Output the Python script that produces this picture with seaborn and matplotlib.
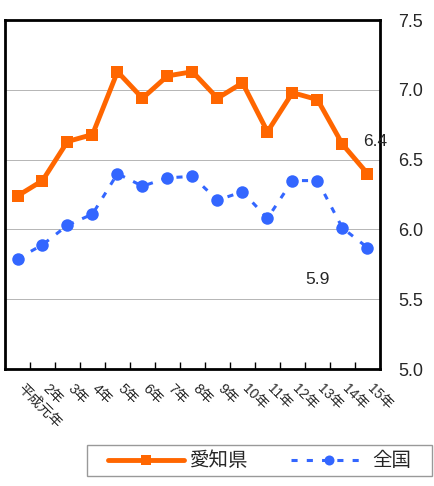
import pandas as pd
import seaborn as sns
import numpy as np
import matplotlib
matplotlib.use('Agg')
import matplotlib.pyplot as plt
import matplotlib.transforms as mtrans
from matplotlib.patches import Rectangle

years = ['平成元年', '2年', '3年', '4年', '5年', '6年', '7年', '8年',
         '9年', '10年', '11年', '12年', '13年', '14年', '15年']
aichi = [6.24, 6.35, 6.63, 6.68, 7.13, 6.94, 7.10, 7.13, 6.94, 7.05, 6.70, 6.98, 6.93, 6.61, 6.40]
zenkoku = [5.79, 5.89, 6.03, 6.11, 6.40, 6.31, 6.37, 6.38, 6.21, 6.27, 6.08, 6.35, 6.35, 6.01, 5.87]

orange = '#FF6600'
blue = '#3366FF'

sns.set_style('white')
plt.rcParams['font.family'] = ['Liberation Sans', 'Noto Sans CJK JP']

fig = plt.figure(figsize=(4.35, 4.86), dpi=100)
ax = fig.add_axes([0.0115, 0.2407, 0.862, 0.718])

idx = np.arange(len(years))
sns.lineplot(x=idx, y=aichi, ax=ax, color=orange, lw=3.5, marker='s', markersize=9,
             markeredgewidth=0, label='愛知県')
sns.lineplot(x=idx, y=zenkoku, ax=ax, color=blue, lw=2.2, marker='o', markersize=9,
             markeredgewidth=0, dashes=(2, 3), label='全国')

ax.set_xlim(-0.5, len(years) - 0.5)
ax.set_ylim(5.0, 7.5)
ax.set_yticks([5.0, 5.5, 6.0, 6.5, 7.0, 7.5])
ax.yaxis.tick_right()
ax.tick_params(axis='y', length=0, pad=13, labelsize=13)
ax.grid(axis='y', color='#aaaaaa', lw=0.6)

ax.set_xticks(idx)
ax.set_xticklabels(years, rotation=-45, ha='left', va='top', rotation_mode='anchor', fontsize=10)
ax.set_xticks(np.arange(0.5, len(years) - 1, 1), minor=True)
ax.tick_params(axis='x', which='major', length=0, pad=9)
ax.tick_params(axis='x', which='minor', length=5, direction='in', width=1, color='black', bottom=True)
shift = mtrans.ScaledTranslation(7 / 100, 0, fig.dpi_scale_trans)
for lab in ax.get_xticklabels():
    lab.set_transform(lab.get_transform() + shift)

for s in ax.spines.values():
    s.set_color('black')
    s.set_linewidth(2)

ax.text(13.82, 6.63, '6.4', fontsize=12.5, ha='left', va='center')
ax.text(12.02, 5.64, '5.9', fontsize=12.5, ha='center', va='center')

# legend box drawn separately so the padding matches the original
fig.patches.append(Rectangle((87 / 435, 10 / 486), 345 / 435, 31 / 486, transform=fig.transFigure,
                             facecolor='white', edgecolor='#999999', lw=1, zorder=-1))
leg = ax.legend(loc='center left', bbox_to_anchor=(108 / 435, 25 / 486), bbox_transform=fig.transFigure,
                ncol=2, fontsize=14, frameon=False, handlelength=3.9, markerscale=0.8,
                columnspacing=2.2, borderpad=0, handletextpad=0.3, borderaxespad=0)

fig.savefig('out.png', dpi=100)
